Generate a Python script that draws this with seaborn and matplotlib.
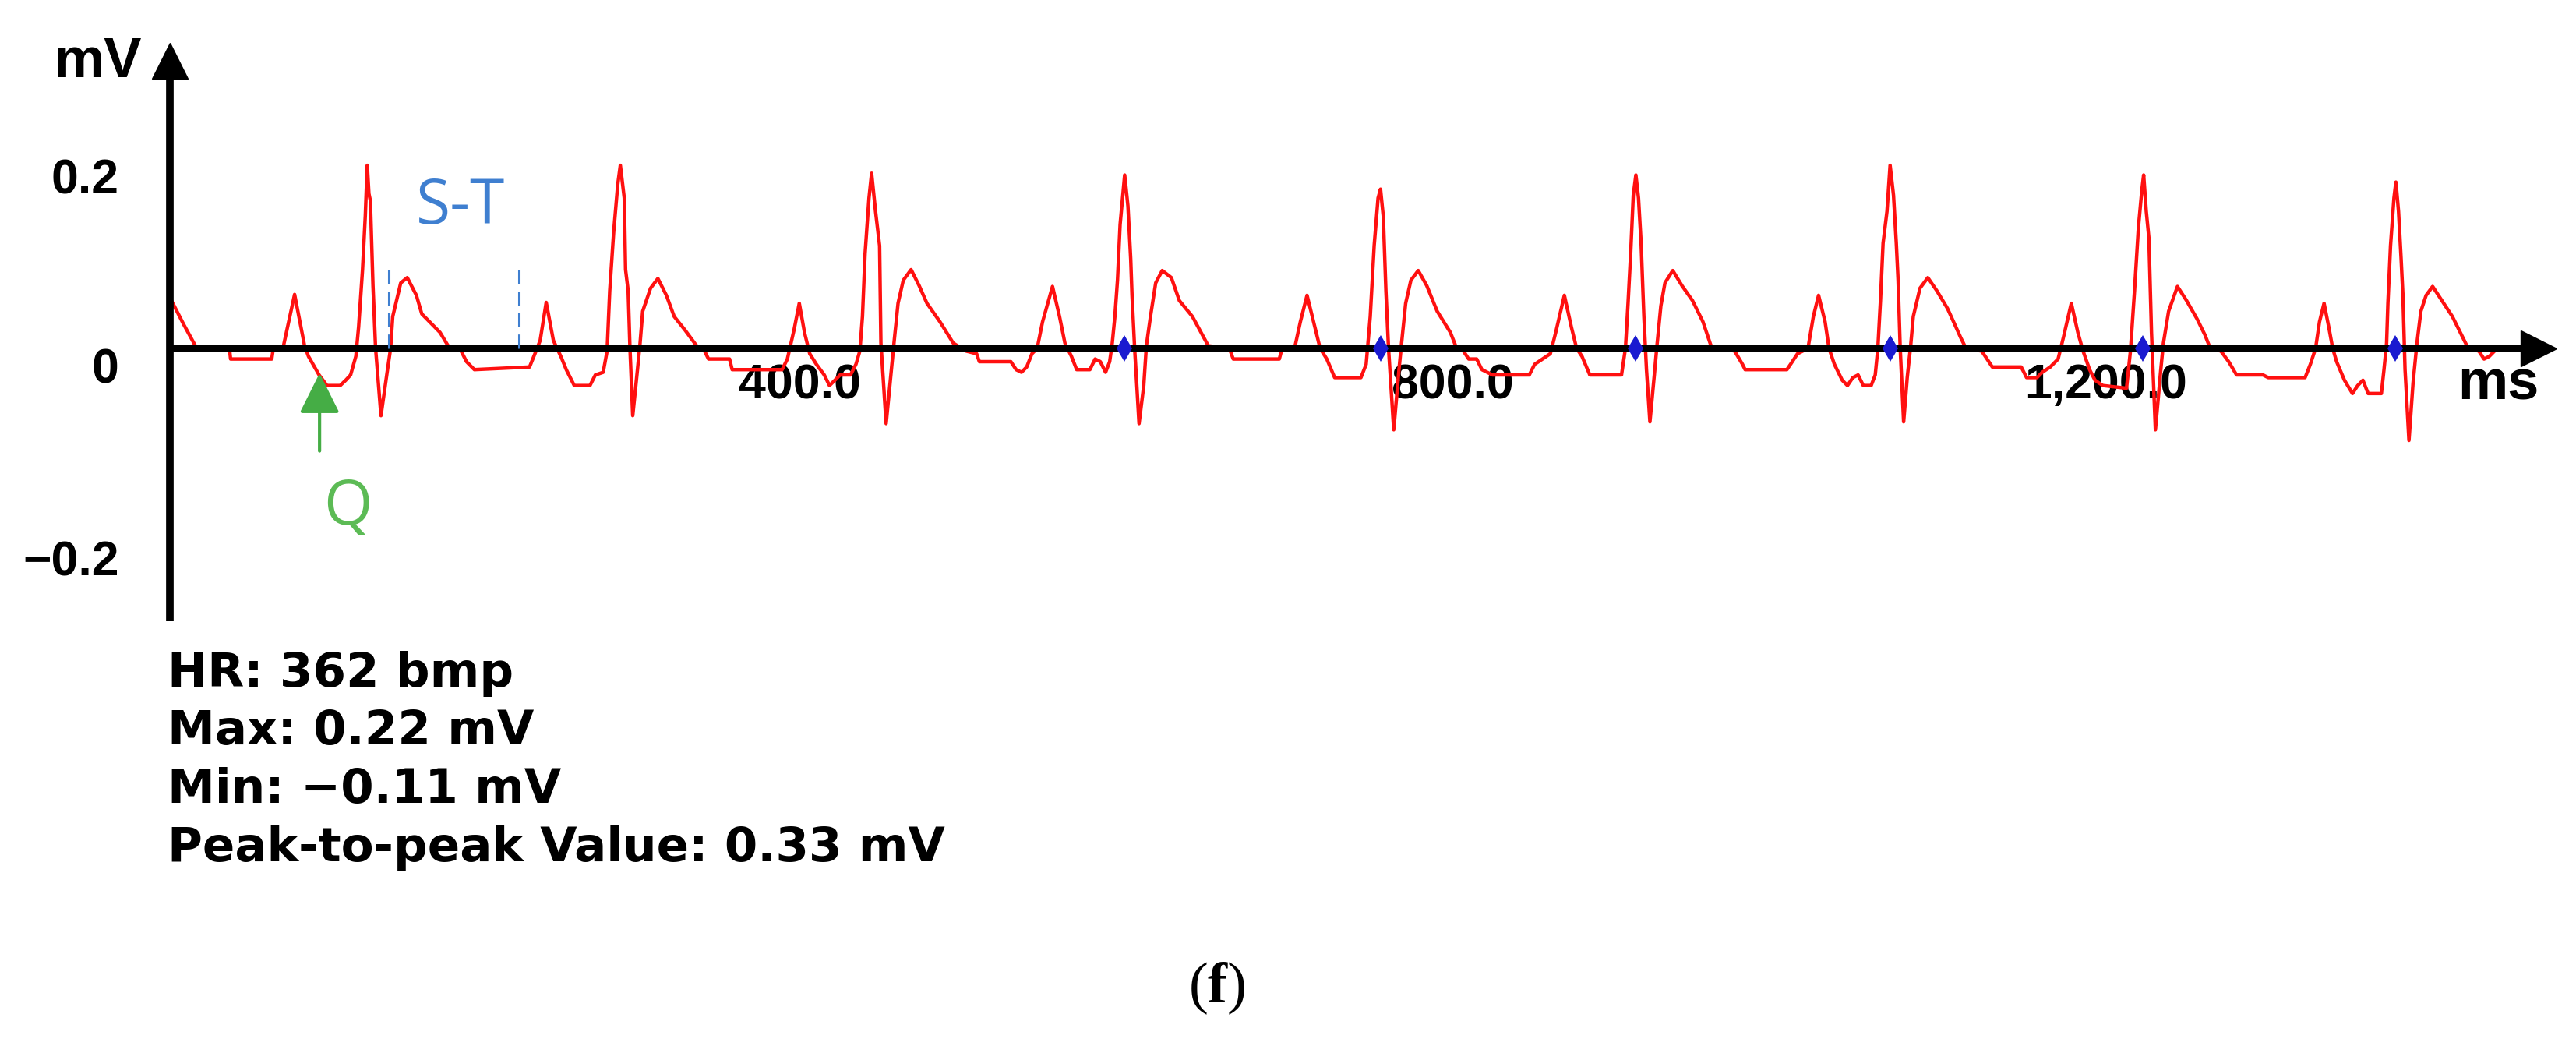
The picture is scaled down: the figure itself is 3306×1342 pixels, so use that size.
import numpy as np
import pandas as pd
import matplotlib
matplotlib.use("Agg")
import matplotlib.pyplot as plt
import seaborn as sns
from matplotlib.transforms import ScaledTranslation

# ---------------- data ----------------
# time in ms, voltage in mV, split into stretches of the recording
seg1_t = [15.3, 22.5, 29.9, 31.5, 50.9, 51.5, 76.7, 77.5, 83.9, 90.7, 96.8, 99.2, 105.7, 110.5, 118.6,
          122.0, 125.0, 128.2, 129.9, 132.3, 134.0, 135.2, 136.2, 137.1, 138.7, 140.3, 143.6, 147.6, 149.5,
          150.8, 155.7, 159.7, 165.3, 168.6, 173.4, 179.8, 184.7, 192.7, 196.0, 200.8, 234.6, 237.9, 241.1,
          244.8, 249.2, 254.0]
seg1_v = [0.054, 0.028, 0.003, -0.002, -0.002, -0.012, -0.012, -0.002, 0.003, 0.061, 0.003, -0.009, -0.030,
          -0.042, -0.042, -0.036, -0.030, -0.009, 0.024, 0.089, 0.150, 0.207, 0.175, 0.167, 0.071, 0.0, -0.076,
          -0.024, 0.0, 0.036, 0.074, 0.080, 0.060, 0.039, 0.030, 0.018, 0.003, -0.003, -0.015, -0.024, -0.021,
          -0.006, 0.009, 0.052, 0.009, -0.010]

seg2_t = [257.1, 262.0, 271.6, 274.9, 279.7, 282.1, 283.7, 286.1, 288.6, 290.2, 292.6, 293.4, 295.0, 296.1,
          297.8, 300.7, 302.3, 303.9, 308.7, 313.2, 318.4, 323.2, 329.7, 336.9, 341.0, 344.2, 357.1, 358.7,
          389.3, 392.5, 396.6, 399.8, 403.0, 406.2, 410.3, 415.1, 418.3, 421.6, 424.8, 431.2, 434.5, 436.9,
          438.5, 440.1, 442.5, 444.1, 446.5, 449.0, 449.8, 453.0, 456.2, 457.8, 460.3, 463.5, 468.3, 473.2,
          478.0, 486.0, 494.1]
seg2_v = [-0.024, -0.042, -0.042, -0.030, -0.027, -0.003, 0.065, 0.131, 0.185, 0.207, 0.170, 0.089, 0.065,
          0.0, -0.076, -0.024, 0.006, 0.042, 0.068, 0.079, 0.060, 0.036, 0.021, 0.003, 0.0, -0.012, -0.012,
          -0.024, -0.024, -0.012, 0.021, 0.051, 0.018, -0.006, -0.018, -0.030, -0.042, -0.036, -0.030, -0.030,
          -0.018, -0.003, 0.036, 0.107, 0.170, 0.198, 0.155, 0.116, 0.006, -0.085, -0.024, 0.006, 0.051, 0.077,
          0.089, 0.071, 0.051, 0.030, 0.006]

seg3_t = [502.0, 508.4, 510.1, 529.4, 532.6, 535.9, 539.1, 542.3, 545.5, 548.8, 554.9, 559.2, 562.5, 566.5,
          569.7, 577.8, 581.0, 584.2, 587.4, 589.9, 591.5, 593.1, 594.7, 596.3, 599.1, 601.1, 602.8, 603.6,
          605.2, 607.9, 610.8, 612.4, 614.9, 618.1, 622.1, 627.7, 632.6, 640.6, 650.3, 663.2, 665.6, 693.8,
          695.5, 703.5, 706.7, 710.8, 714.8, 718.8, 722.9, 727.7, 743.8, 747.0, 749.5, 751.9, 754.3]
seg3_v = [-0.003, -0.006, -0.015, -0.015, -0.024, -0.027, -0.021, -0.006, 0.0, 0.030, 0.070, 0.036, 0.006,
          -0.009, -0.024, -0.024, -0.012, -0.015, -0.027, -0.015, 0.006, 0.036, 0.077, 0.140, 0.196, 0.161,
          0.101, 0.060, 0.0, -0.085, -0.042, 0.003, 0.036, 0.074, 0.088, 0.080, 0.054, 0.036, 0.003, 0.0,
          -0.012, -0.012, 0.0, 0.003, 0.030, 0.060, 0.030, 0.0, -0.012, -0.033, -0.033, -0.018, 0.036, 0.116,
          0.170]

seg4_t = [755.8, 757.5, 759.1, 760.7, 763.9, 767.1, 768.7, 771.2, 774.4, 778.9, 784.1, 790.5, 798.6, 801.8,
          806.6, 809.8, 814.7, 817.9, 824.4, 846.9, 850.2, 855.0, 859.8, 863.1, 868.4, 872.7, 875.9, 879.2,
          884.0, 903.4, 905.8, 907.4, 909.0, 910.6, 912.2, 913.8, 915.4, 917.1, 918.7, 920.8, 923.5, 925.1,
          927.5, 930.0, 934.8, 940.4, 946.9, 953.3, 958.2, 972.7, 977.5, 979.1]
seg4_v = [0.180, 0.149, 0.065, 0.0, -0.092, -0.024, 0.006, 0.051, 0.077, 0.088, 0.071, 0.042, 0.018, 0.003,
          -0.003, -0.012, -0.012, -0.024, -0.030, -0.030, -0.018, -0.012, -0.006, 0.018, 0.060, 0.024, 0.0,
          -0.009, -0.030, -0.030, 0.0, 0.051, 0.107, 0.173, 0.196, 0.170, 0.119, 0.036, -0.024, -0.083, -0.030,
          0.003, 0.048, 0.074, 0.088, 0.071, 0.054, 0.030, 0.003, -0.003, -0.018, -0.024]

seg5_t = [1004.7, 1008.0, 1011.2, 1017.6, 1020.9, 1024.1, 1028.1, 1030.5, 1033.8, 1038.6, 1041.8, 1045.1,
          1048.3, 1051.5, 1056.3, 1058.8, 1060.4, 1062.0, 1063.6, 1066.0, 1067.9, 1070.0, 1071.7, 1072.8,
          1074.1, 1076.2, 1078.4, 1080.5, 1082.1, 1086.2, 1091.0, 1096.6, 1103.1, 1111.2, 1114.4, 1124.0,
          1127.3, 1130.5, 1148.2, 1151.5, 1157.9, 1161.1, 1166.0, 1170.8, 1174.0, 1178.9, 1182.9, 1186.1,
          1190.1, 1193.4, 1198.2, 1212.7, 1215.1, 1217.6, 1220.0, 1222.1, 1223.2, 1224.8, 1226.4, 1228.0,
          1230.4, 1233.7, 1235.3, 1238.5]
seg5_v = [-0.024, -0.015, -0.006, 0.0, 0.036, 0.060, 0.030, 0.0, -0.018, -0.036, -0.042, -0.033, -0.030,
          -0.042, -0.042, -0.030, 0.0, 0.054, 0.119, 0.155, 0.207, 0.173, 0.119, 0.077, 0.0, -0.083, -0.033,
          0.003, 0.036, 0.068, 0.080, 0.065, 0.045, 0.012, 0.0, -0.003, -0.012, -0.021, -0.021, -0.033, -0.033,
          -0.027, -0.021, -0.012, 0.012, 0.051, 0.018, -0.003, -0.024, -0.036, -0.042, -0.045, -0.003, 0.065,
          0.137, 0.179, 0.196, 0.155, 0.125, 0.018, -0.092, -0.024, 0.006, 0.042]

seg6_t = [1243.9, 1249.5, 1256.0, 1260.8, 1264.0, 1270.5, 1275.3, 1280.1, 1296.3, 1299.5, 1322.1, 1325.3,
          1328.5, 1330.9, 1333.7, 1336.6, 1339.0, 1341.4, 1346.2, 1351.1, 1354.3, 1357.5, 1360.7, 1368.8,
          1370.4, 1372.0, 1372.8, 1374.4, 1376.5, 1377.7, 1379.3, 1380.9, 1382.0, 1383.3, 1385.7, 1388.2,
          1390.6, 1393.0, 1396.2, 1400.2, 1405.9, 1412.3, 1418.8, 1422.0, 1428.5, 1431.7, 1434.9, 1438.1]
seg6_v = [0.070, 0.054, 0.033, 0.015, 0.0, -0.003, -0.015, -0.030, -0.030, -0.033, -0.033, -0.018, 0.0,
          0.030, 0.051, 0.024, 0.0, -0.015, -0.036, -0.051, -0.042, -0.036, -0.051, -0.051, -0.024, 0.006,
          0.051, 0.116, 0.170, 0.188, 0.155, 0.101, 0.060, -0.024, -0.104, -0.039, 0.006, 0.042, 0.060, 0.070,
          0.054, 0.036, 0.012, 0.0, -0.003, -0.012, -0.009, -0.003]

# detected R-peak markers (blue) on the baseline
r_marker_t = [599.1, 755.8, 912.2, 1067.9, 1222.5, 1377.5]
r_marker_v = [0.0, 0.0, 0.0, 0.0, 0.0, 0.0]

# S-T interval guide lines
st_t = [148.4, 228.2]
st_top = [0.089, 0.091]

# Q-wave arrow (tip, tail)
q_arrow_t = 106.0
q_arrow_tip_v = -0.028
q_arrow_tail_v = -0.116

x_major = [400, 800, 1200]
x_major_labels = ["400.0", "800.0", "1,200.0"]
x_minor = [200, 600, 1000, 1400]
y_ticks = [0.2, 0.0, -0.2]
y_tick_labels = ["0.2", "0", "\u22120.2"]

stats_lines = ["HR: 362 bmp", "Max: 0.22 mV", "Min: \u22120.11 mV", "Peak-to-peak Value: 0.33 mV"]

# ---------------- figure ----------------
t_all = seg1_t + seg2_t + seg3_t + seg4_t + seg5_t + seg6_t
v_all = seg1_v + seg2_v + seg3_v + seg4_v + seg5_v + seg6_v
assert len(t_all) == len(v_all)
df = pd.DataFrame({"t": t_all, "v": v_all})

sns.set_style("white")
plt.rcParams["font.family"] = ["Liberation Sans", "DejaVu Sans"]
plt.rcParams["text.color"] = "black"
plt.rcParams["axes.labelcolor"] = "black"
plt.rcParams["xtick.color"] = "black"
plt.rcParams["ytick.color"] = "black"
plt.rcParams["mathtext.fontset"] = "custom"
plt.rcParams["mathtext.rm"] = "Liberation Serif"
plt.rcParams["mathtext.bf"] = "Liberation Serif:bold"

W, H = 3306, 1342
fig = plt.figure(figsize=(W / 100, H / 100), dpi=100)
fig.patch.set_facecolor("white")


def fx(px):
    return px / W


def fy(py):
    return 1 - py / H


ax = fig.add_axes([fx(218), fy(797), (3258 - 218) / W, (797 - 78) / H])
ax.set_facecolor("white")

sns.lineplot(data=df, x="t", y="v", ax=ax, color="#ff1010", linewidth=3.2,
             estimator=None, sort=False, zorder=2)

ax.set_xlim(14.3, 1465.1)
ax.set_ylim(-0.3084, 0.3251)
ax.set_xlabel("")
ax.set_ylabel("")

for s in ["top", "right"]:
    ax.spines[s].set_visible(False)
ax.spines["bottom"].set_position(("data", 0))
for s in ["left", "bottom"]:
    ax.spines[s].set_linewidth(7.0)
    ax.spines[s].set_color("black")
    ax.spines[s].set_capstyle("butt")

ax.set_xticks(x_major, labels=x_major_labels)
ax.set_xticks(x_minor, minor=True)
ax.tick_params(axis="x", which="both", direction="in", length=21, width=2.0, color="black",
               labelcolor="black", pad=13, labelsize=45)
ax.set_yticks(y_ticks, labels=y_tick_labels)
ax.tick_params(axis="y", direction="in", length=24, width=3.0, color="black",
               labelcolor="black", pad=47, labelsize=45)
for lab in ax.get_xticklabels() + ax.get_yticklabels():
    lab.set_fontweight("bold")

# y tick labels are drawn a little lower than their ticks in the reference
y_label_drop_px = [6, 22, 42]
for tick, d in zip(ax.yaxis.get_major_ticks(), y_label_drop_px):
    lab = tick.label1
    lab.set_transform(lab.get_transform() + ScaledTranslation(0, -d / 100, fig.dpi_scale_trans))

# arrow heads on the axes
ax.plot([0], [1], marker="^", color="black", markersize=33, transform=ax.transAxes,
        clip_on=False, zorder=5)
ax.plot([1], [0], marker=">", color="black", markersize=33, transform=ax.get_yaxis_transform(),
        clip_on=False, zorder=5)

# blue R markers
ax.plot(r_marker_t, r_marker_v, linestyle="none", marker="d", markersize=17, color="#1a1ad0",
        markeredgewidth=0, zorder=4)

# S-T dashed guides and label
ax.vlines(st_t, [0, 0], st_top, colors="#3f7fd0", linestyles=(0, (6, 3)), linewidth=2.2, zorder=3)
ax.text(192.3, 0.141, "S-T", ha="center", va="baseline", fontsize=58, color="#3f7fd0",
        family=["Open Sans", "DejaVu Sans"])

# Q arrow and label
ax.annotate("", xy=(q_arrow_t, q_arrow_tip_v), xytext=(q_arrow_t, q_arrow_tail_v),
            arrowprops=dict(arrowstyle="-|>,head_length=1.6,head_width=0.8", color="#45ad45",
                            lw=3, shrinkA=0, shrinkB=0, mutation_scale=20), zorder=5)
ax.text(123.1, -0.199, "Q", ha="center", va="baseline", fontsize=58, color="#5cbb55",
        family=["Open Sans", "DejaVu Sans"])

# axis unit labels
fig.text(fx(125), fy(99), "mV", ha="center", va="baseline", fontsize=52, color="black",
         fontweight="bold")
fig.text(fx(3206), fy(513), "ms", ha="center", va="baseline", fontsize=52, color="black",
         fontweight="bold")

# statistics block
for i, line in enumerate(stats_lines):
    fig.text(fx(215), fy(881 + 74.5 * i), line, ha="left", va="baseline", fontsize=44,
             color="black", family=["DejaVu Sans"], fontweight="bold")

# panel caption
fig.text(fx(1562), fy(1286), r"$\mathrm{(}\mathbf{f}\mathrm{)}$", ha="center", va="baseline",
         fontsize=54, color="black")

fig.savefig("out.png", dpi=100, facecolor="white")
